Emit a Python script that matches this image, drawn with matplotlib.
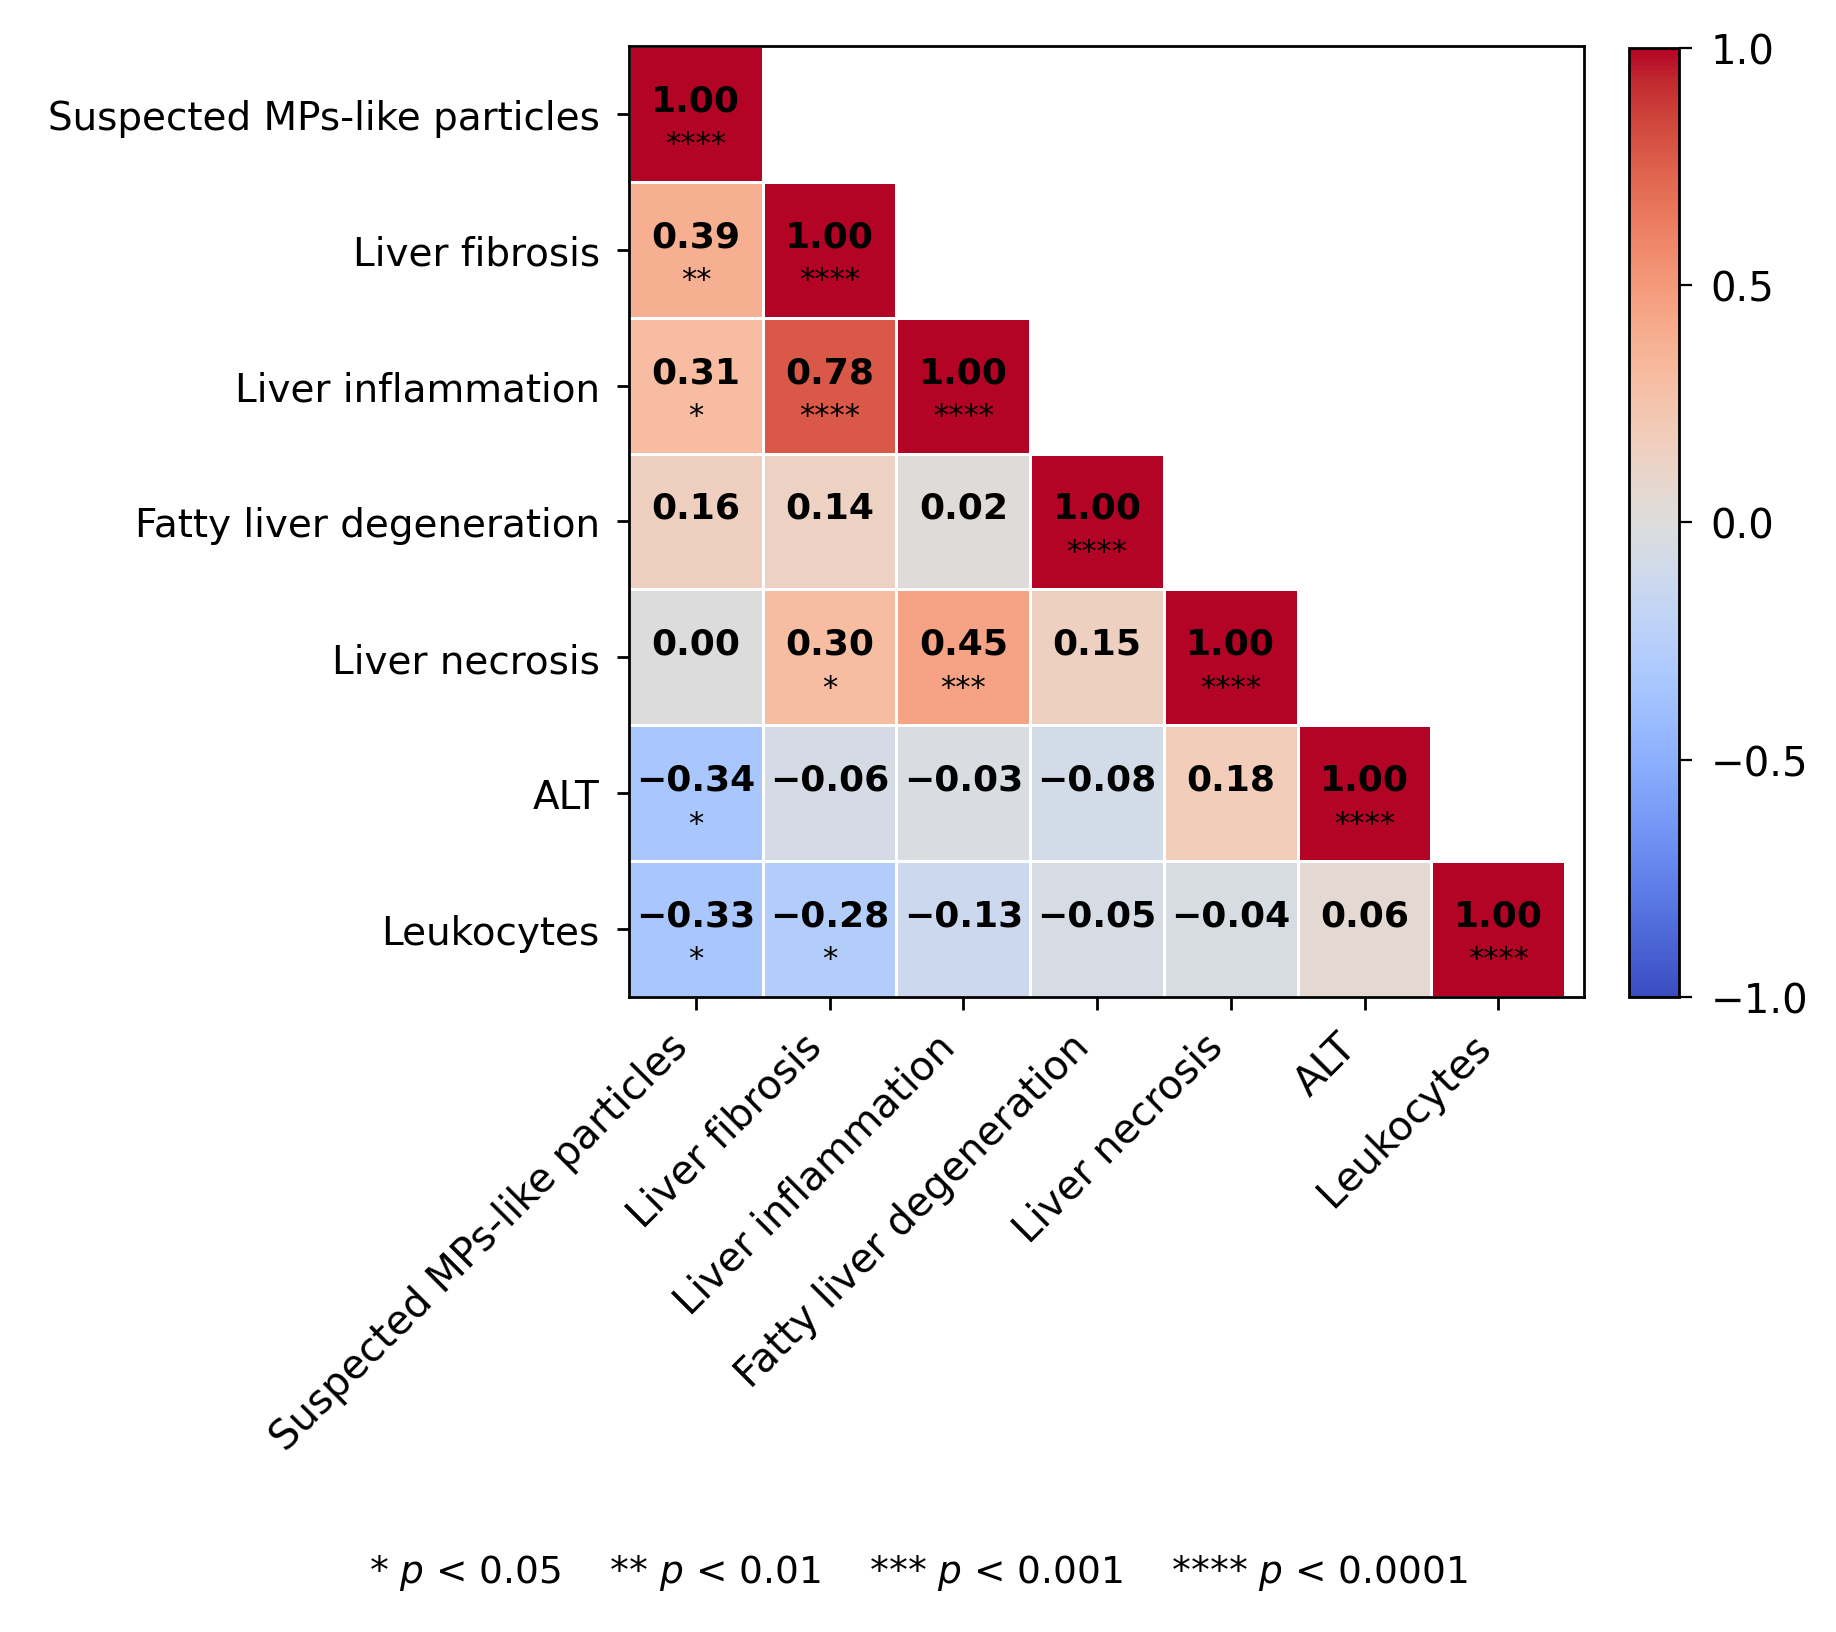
import numpy as np
import matplotlib
matplotlib.use("Agg")
import matplotlib.pyplot as plt

labels = ["Suspected MPs-like particles", "Liver fibrosis", "Liver inflammation",
          "Fatty liver degeneration", "Liver necrosis", "ALT", "Leukocytes"]

r_mps = [1.00]
r_fib = [0.39, 1.00]
r_inf = [0.31, 0.78, 1.00]
r_fat = [0.16, 0.14, 0.02, 1.00]
r_nec = [0.00, 0.30, 0.45, 0.15, 1.00]
r_alt = [-0.34, -0.06, -0.03, -0.08, 0.18, 1.00]
r_leu = [-0.33, -0.28, -0.13, -0.05, -0.04, 0.06, 1.00]
rows = [r_mps, r_fib, r_inf, r_fat, r_nec, r_alt, r_leu]

s_mps = ["****"]
s_fib = ["**", "****"]
s_inf = ["*", "****", "****"]
s_fat = ["", "", "", "****"]
s_nec = ["", "*", "***", "", "****"]
s_alt = ["*", "", "", "", "", "****"]
s_leu = ["*", "*", "", "", "", "", "****"]
stars = [s_mps, s_fib, s_inf, s_fat, s_nec, s_alt, s_leu]

footnote = r"* $p$ < 0.05    ** $p$ < 0.01    *** $p$ < 0.001    **** $p$ < 0.0001"

n = len(labels)
M = np.full((n, n), np.nan)
for i, row in enumerate(rows):
    M[i, :len(row)] = row
Mm = np.ma.masked_invalid(M)

W, H, DPI = 1836, 1633, 200
fig = plt.figure(figsize=(W / DPI, H / DPI), dpi=DPI)
ax = fig.add_axes([0.3426, 0.3889, 0.5201, 0.5823])
cax = fig.add_axes([0.8872, 0.3889, 0.0272, 0.5813])

mesh = ax.pcolormesh(np.arange(n + 1), np.arange(n + 1), Mm, cmap="coolwarm",
                     vmin=-1, vmax=1, edgecolors="white", linewidth=1.0)
ax.set_xlim(0, n + 0.14)
ax.set_ylim(n, 0)

for i, row in enumerate(rows):
    for j, v in enumerate(row):
        txt = f"{v:.2f}".replace("-", "\u2212")
        ax.text(j + 0.5, i + 0.4, txt, ha="center", va="center",
                fontsize=13, fontweight="bold", color="black")
        if stars[i][j]:
            ax.text(j + 0.5, i + 0.72, stars[i][j], ha="center", va="center",
                    fontsize=11, color="black")

ax.set_xticks(np.arange(n) + 0.5)
ax.set_yticks(np.arange(n) + 0.5)
ax.set_xticklabels(labels, rotation=45, ha="right", fontsize=14.5)
ax.set_yticklabels(labels, fontsize=14)
ax.tick_params(length=4.5, width=1)
ax.tick_params(axis="y", pad=6)
ax.tick_params(axis="x", pad=6)
for sp in ax.spines.values():
    sp.set_linewidth(1.0)

cb = fig.colorbar(mesh, cax=cax)
cb.set_ticks([-1.0, -0.5, 0.0, 0.5, 1.0])
cb.ax.tick_params(labelsize=14.5, length=4.5, pad=7)
cb.outline.set_linewidth(1.0)

fig.text(0.5, 0.0367, footnote, ha="center", va="center", fontsize=13.5)

fig.savefig("out.png", dpi=DPI, facecolor="white")
